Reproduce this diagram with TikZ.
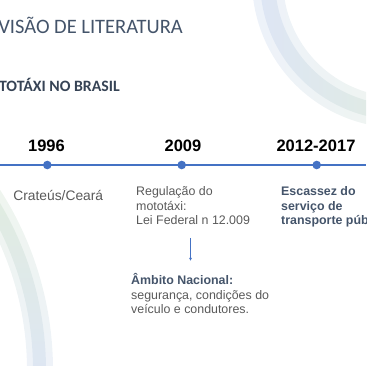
\documentclass[tikz,border=0pt]{standalone}
\usepackage{fontspec}
\setmainfont{Liberation Sans}
\newfontfamily\calibri{Carlito}
\usetikzlibrary{positioning}
\usetikzlibrary{arrows.meta}
\definecolor{tlblue}{HTML}{4472C4}
\definecolor{slate}{HTML}{44546A}
\definecolor{txtgray}{HTML}{595959}
\definecolor{bandblue}{HTML}{9DB5E3}
\definecolor{bandgreen}{HTML}{A9CC9C}

\begin{document}
\begin{tikzpicture}[x=1pt,y=1pt,
    year/.style={font=\fontsize{16.5}{18}\selectfont\bfseries,anchor=base,inner sep=0pt},
    dot/.style={circle,fill=tlblue,inner sep=0pt,minimum size=8.6pt},
    body/.style={font=\fontsize{12.4}{14.5}\selectfont,text=txtgray,align=left,anchor=base west,inner sep=0pt}]
  \useasboundingbox (0,0) rectangle (366,366);
  \clip (0,0) rectangle (366,366);
  \shade[top color=bandgreen,bottom color=bandblue,opacity=0.18] ([shift={(-280,-4)}]-5:333pt) arc[start angle=-5,end angle=40,radius=333pt] -- ([shift={(-280,-4)}]40:307pt) arc[start angle=40,end angle=-5,radius=307pt] -- cycle;
  \shade[top color=bandgreen,bottom color=bandblue,opacity=0.2] ([shift={(-280,-4)}]-5:326pt) arc[start angle=-5,end angle=40,radius=326pt] -- ([shift={(-280,-4)}]40:313pt) arc[start angle=40,end angle=-5,radius=313pt] -- cycle;
  \shade[left color=bandblue,right color=bandgreen,opacity=0.18] ([shift={(400,386)}]175:148pt) arc[start angle=175,end angle=285,radius=148pt] -- ([shift={(400,386)}]285:117pt) arc[start angle=285,end angle=175,radius=117pt] -- cycle;
  \shade[left color=bandblue,right color=bandgreen,opacity=0.2] ([shift={(400,386)}]175:140pt) arc[start angle=175,end angle=285,radius=140pt] -- ([shift={(400,386)}]285:125pt) arc[start angle=285,end angle=175,radius=125pt] -- cycle;
  \node[font=\calibri\fontsize{20.5}{24}\selectfont,text=slate,anchor=base east,inner sep=0pt] (title) at (183,332) {VISÃO DE LITERATURA};
  \node[font=\calibri\fontsize{15.8}{18}\selectfont\bfseries,text=slate!80!black,anchor=base east,inner sep=0pt] (sub) at (120,274.3) {TOTÁXI NO BRASIL};
  \coordinate (tlL) at (0,201);
  \coordinate (tlR) at (366,201);
  \draw[tlblue,line width=1.6pt] (tlL) -- (tlR);
  \node[dot] (d1) at (47.3,201) {};
  \node[dot] (d2) at (181.7,201) {};
  \node[dot] (d3) at (316.7,201) {};
  \node[year] (y1) at (46.5,214.3) {1996};
  \node[year] (y2) at (183,214.3) {2009};
  \node[year] (y3) at (316,214.3) {2012-2017};
  \node[body,font=\fontsize{13.8}{16}\selectfont,anchor=base] (crat) at (58.3,165) {Crateús/Ceará};
  \node[body] (reg) at (136,141) {Regulação do\\mototáxi:\\Lei Federal n 12.009};
  \node[body,text=slate,font=\fontsize{12.4}{14.5}\selectfont\bfseries] (esc) at (281,141) {Escassez do\\serviço de\\transporte púb};
  \node[body] (amb) at (131,52) {\textbf{\color{slate}Âmbito Nacional:}\\segurança, condições do\\veículo e condutores.};
  \coordinate (aTop) at (190.5,128);
  \coordinate (aEnd) at (190.5,105);
  \draw[tlblue,line width=0.6pt,-{Latex[length=3pt,width=3pt]}] (aTop) -- (aEnd);
\end{tikzpicture}
\end{document}
